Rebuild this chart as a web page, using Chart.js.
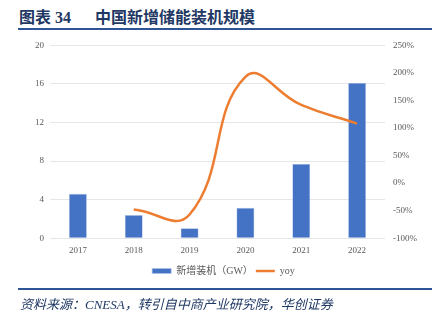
<!DOCTYPE html>
<html lang="zh">
<head>
    <meta charset="UTF-8">
    <title>中国新增储能装机规模</title>
    <script src="https://cdn.jsdelivr.net/npm/chart.js"></script>
    <style>
        html, body { margin: 0; padding: 0; background: #fff; }
        body { width: 447px; height: 322px; position: relative; overflow: hidden; }
        .title {
            position: absolute; left: 19px; top: 4px;
            font-family: "Liberation Serif", "Noto Sans CJK SC", serif;
            font-size: 16px; font-weight: bold; color: #1f3864;
            white-space: pre;
        }
        .rule { position: absolute; left: 18px; width: 414px; height: 2px; background: #2f5496; }
        .chart-box { position: absolute; left: 0; top: 32px; width: 447px; height: 259px; }
        .source {
            position: absolute; left: 20px; top: 294px;
            font-family: "Liberation Serif", "Noto Sans CJK SC", serif;
            font-size: 13px; font-style: italic; color: #1f3864;
            white-space: pre;
        }
    </style>
</head>
<body>
    <div class="title">图表 34      中国新增储能装机规模</div>
    <div class="rule" style="top: 28px;"></div>
    <div class="chart-box"><canvas id="myChart"></canvas></div>
    <div class="rule" style="top: 288px;"></div>
    <div class="source">资料来源：CNESA，转引自中商产业研究院，华创证券</div>

<script>
    const years = ['2017', '2018', '2019', '2020', '2021', '2022'];
    const installed = [4.6, 2.4, 1.03, 3.15, 7.7, 16.1];   // GW
    const yoy = [null, -48, -57, 193, 142, 108];          // %

    const tickFont = { family: 'Liberation Serif', size: 9 };
    const gray = '#595959';

    const ctx = document.getElementById('myChart');
    new Chart(ctx, {
        type: 'bar',
        data: {
            labels: years,
            datasets: [
                {
                    label: '新增装机（GW）',
                    data: installed,
                    backgroundColor: '#4472c4',
                    borderColor: '#a9bfe6',
                    borderWidth: 0.6,
                    barPercentage: 0.32,
                    categoryPercentage: 1,
                    yAxisID: 'y',
                    pointStyle: 'rect',
                    order: 1
                },
                {
                    label: 'yoy',
                    type: 'line',
                    data: yoy,
                    borderColor: '#ed7d31',
                    backgroundColor: '#ed7d31',
                    borderWidth: 2.5,
                    tension: 0.45,
                    pointRadius: 0,
                    pointStyle: 'line',
                    yAxisID: 'y1',
                    order: 0
                }
            ]
        },
        options: {
            responsive: true,
            maintainAspectRatio: false,
            animation: false,
            layout: { padding: { top: 8, bottom: 5 } },
            plugins: {
                tooltip: { enabled: false },
                legend: {
                    position: 'bottom',
                    labels: {
                        usePointStyle: true,
                        pointStyleWidth: 19,
                        boxHeight: 5,
                        padding: 3,
                        color: gray,
                        font: { family: "'Liberation Serif', 'Noto Sans CJK SC'", size: 10 },
                        sort: function (a, b) { return a.datasetIndex - b.datasetIndex; }
                    }
                }
            },
            scales: {
                x: {
                    grid: { display: false, drawTicks: false },
                    border: { display: false },
                    ticks: { color: gray, font: tickFont, padding: 7 }
                },
                y: {
                    position: 'left',
                    min: 0, max: 20,
                    ticks: { stepSize: 4, color: gray, font: tickFont, padding: 6 },
                    grid: { color: '#e6e6e6', lineWidth: 1, drawTicks: false },
                    border: { display: false },
                    afterFit: function (scale) { scale.width = 50; }
                },
                y1: {
                    position: 'right',
                    min: -100, max: 250,
                    ticks: {
                        stepSize: 50, color: gray, font: tickFont, padding: 8,
                        callback: function (v) { return v + '%'; }
                    },
                    grid: { display: false, drawTicks: false },
                    border: { display: false },
                    afterFit: function (scale) { scale.width = 62; }
                }
            }
        }
    });
</script>
</body>
</html>
